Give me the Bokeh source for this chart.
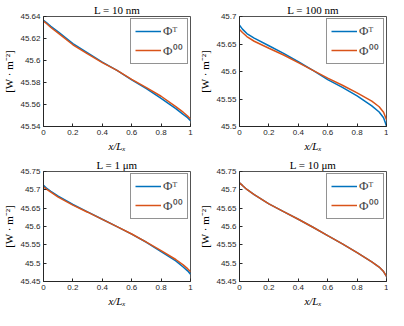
from bokeh.plotting import figure
from bokeh.layouts import gridplot
from bokeh.models import Range1d, FixedTicker, Legend, LegendItem, CustomJSTickFormatter
from bokeh.embed import file_html
from bokeh.resources import INLINE

# ---- data ----
x = [0, 0.02, 0.05, 0.1, 0.2, 0.3, 0.4, 0.5, 0.6, 0.7, 0.8, 0.9, 0.95, 0.98, 1.0]

titles = ["L = 10 nm", "L = 100 nm", "L = 1 μm", "L = 10 μm"]

phiT_10nm = [45.6366, 45.6345, 45.6310, 45.6260, 45.6154, 45.6070, 45.5986, 45.5910,
             45.5823, 45.5745, 45.5656, 45.5563, 45.5510, 45.5480, 45.5453]
phi00_10nm = [45.6358, 45.6336, 45.6300, 45.6249, 45.6143, 45.6060, 45.5980, 45.5910,
              45.5829, 45.5753, 45.5675, 45.5580, 45.5530, 45.5495, 45.5468]

phiT_100nm = [45.6843, 45.6770, 45.6690, 45.6608, 45.6468, 45.6328, 45.6177, 45.6020,
              45.5852, 45.5712, 45.5555, 45.5375, 45.5263, 45.5160, 45.5010]
phi00_100nm = [45.6765, 45.6710, 45.6636, 45.6550, 45.6423, 45.6300, 45.6160, 45.6020,
               45.5880, 45.5750, 45.5610, 45.5460, 45.5359, 45.5260, 45.5123]

phiT_1um = [45.7122, 45.7050, 45.6960, 45.6828, 45.6600, 45.6400, 45.6197, 45.5996,
            45.5794, 45.5570, 45.5315, 45.5063, 45.4895, 45.4790, 45.4700]
phi00_1um = [45.7080, 45.7020, 45.6935, 45.6800, 45.6584, 45.6390, 45.6195, 45.5996,
             45.5796, 45.5575, 45.5340, 45.5100, 45.4954, 45.4850, 45.4769]

phiT_10um = [45.7189, 45.7120, 45.7010, 45.6870, 45.6618, 45.6408, 45.6197, 45.5980,
             45.5752, 45.5525, 45.5290, 45.5038, 45.4895, 45.4770, 45.4643]
phi00_10um = [45.7189, 45.7120, 45.7010, 45.6870, 45.6618, 45.6408, 45.6197, 45.5980,
              45.5752, 45.5525, 45.5290, 45.5038, 45.4895, 45.4770, 45.4643]

y_ranges = [(45.54, 45.64), (45.5, 45.7), (45.45, 45.75), (45.45, 45.75)]
y_ticks = [
    [45.54, 45.56, 45.58, 45.6, 45.62, 45.64],
    [45.5, 45.55, 45.6, 45.65, 45.7],
    [45.45, 45.5, 45.55, 45.6, 45.65, 45.7, 45.75],
    [45.45, 45.5, 45.55, 45.6, 45.65, 45.7, 45.75],
]
x_ticks = [0, 0.2, 0.4, 0.6, 0.8, 1]
series_T = [phiT_10nm, phiT_100nm, phiT_1um, phiT_10um]
series_00 = [phi00_10nm, phi00_100nm, phi00_1um, phi00_10um]

BLUE = "#0072BD"
ORANGE = "#D95319"
AX = "#262626"
SERIF = "Liberation Serif"
SANS = "Liberation Sans"

fmt = CustomJSTickFormatter(code="return String(Number(tick.toFixed(4)));")


def make(i, width, mbl, mbr):
    p = figure(width=width, height=155, output_backend="svg", toolbar_location=None,
               x_range=Range1d(0, 1), y_range=Range1d(*y_ranges[i]),
               min_border_left=mbl, min_border_right=mbr,
               min_border_top=15, min_border_bottom=29)
    p.title.text = titles[i]
    p.title.align = "center"
    p.title.text_font = SERIF
    p.title.text_font_size = "11px"
    p.title.text_font_style = "normal"
    p.title.text_color = "#000000"
    p.title.standoff = 2
    p.outline_line_color = AX
    p.outline_line_width = 0.8
    p.xgrid.visible = False
    p.ygrid.visible = False
    for ax in (p.xaxis[0], p.yaxis[0]):
        ax.major_tick_in = 3
        ax.major_tick_out = 0
        ax.minor_tick_line_color = None
        ax.axis_line_color = AX
        ax.major_tick_line_color = AX
        ax.major_label_text_font = SANS
        ax.major_label_text_font_size = "8px"
        ax.major_label_text_color = AX
        ax.major_label_standoff = 3
        ax.axis_label_text_font = SERIF
        ax.axis_label_text_font_size = "11px"
        ax.axis_label_text_color = "#000000"
        ax.axis_label_standoff = 2
        ax.formatter = fmt
    p.xaxis.ticker = FixedTicker(ticks=x_ticks)
    p.yaxis.ticker = FixedTicker(ticks=y_ticks[i])
    p.xaxis.axis_label = "x/Lₓ"
    p.xaxis.axis_label_text_font_style = "italic"
    p.yaxis.axis_label = "[W · m⁻²]"
    p.yaxis.axis_label_text_font_style = "normal"

    r1 = p.line(x, series_T[i], line_color=BLUE, line_width=1.5)
    r2 = p.line(x, series_00[i], line_color=ORANGE, line_width=1.5)
    leg = Legend(items=[LegendItem(label="Φᵀ", renderers=[r1]),
                        LegendItem(label="Φ⁰⁰", renderers=[r2])],
                 location="top_right")
    leg.label_text_font = SERIF
    leg.label_text_font_size = "13px"
    leg.glyph_width = 26
    leg.glyph_height = 14
    leg.label_height = 14
    leg.spacing = 2
    leg.padding = 4
    leg.margin = 2
    leg.label_standoff = 2
    leg.border_line_color = AX
    leg.border_line_width = 0.8
    p.add_layout(leg)
    return p


p1 = make(0, 196, 37, 6)
p2 = make(1, 192, 40, 2)
p3 = make(2, 196, 37, 6)
p4 = make(3, 192, 40, 2)

grid = gridplot([[p1, p2], [p3, p4]], toolbar_location=None)

open("out.html", "w").write(file_html(grid, INLINE))
